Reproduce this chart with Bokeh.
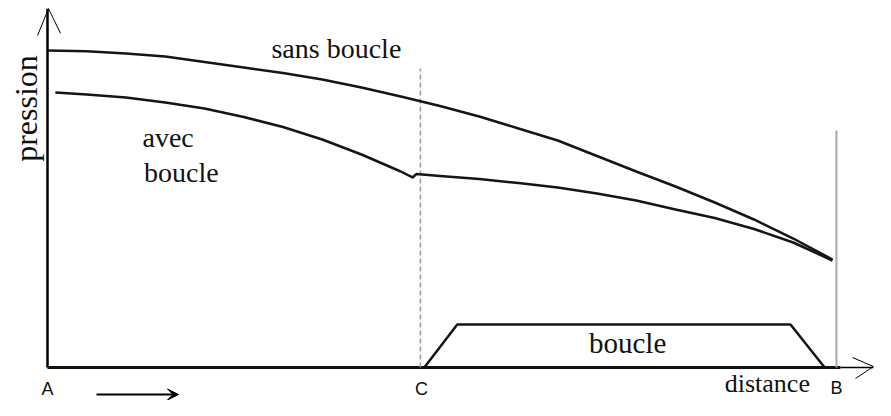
from bokeh.plotting import figure
from bokeh.models import Range1d, Arrow, VeeHead
from bokeh.embed import file_html
from bokeh.resources import INLINE
from bokeh.core.properties import value
import math

# distance: A = 0, C ~ 47.5, B = 100 ; pression in arbitrary units
dist = [0, 5, 10, 15, 20, 25, 30, 35, 40, 45, 50, 55, 60, 65, 70, 75, 80, 85, 90, 95, 100]
p_sans = [100.0, 99.78, 99.05, 98.11, 96.37, 94.64, 92.90, 90.85, 88.33, 85.49, 82.49,
          79.18, 75.39, 71.61, 66.72, 61.83, 57.10, 52.05, 46.69, 40.69, 34.07]

d_avec = [1, 5, 10, 15, 20, 25, 30, 35, 40, 45, 46.5, 47, 50, 55, 60, 65, 70, 75, 80, 85, 90, 95, 100]
p_avec = [86.75, 86.12, 85.17, 83.60, 81.70, 79.02, 75.87, 71.92, 67.19, 61.83, 59.94,
          61.04, 60.41, 59.46, 58.20, 56.78, 54.89, 52.68, 49.84, 47.16, 43.69, 39.43, 33.75]

d_C = 47.5
d_B = 100.5
p_C_top = 94.3
p_B_top = 74.8

d_boucle = [48.0, 52.2, 94.65, 99.0]
p_boucle = [0, 13.56, 13.56, 0]

X0, X1 = -5.987, 105.478
Y0, Y1 = -10.41, 115.77

p = figure(width=875, height=400, output_backend="svg", toolbar_location=None,
           x_range=Range1d(X0, X1), y_range=Range1d(Y0, Y1), min_border=0)
p.axis.visible = False
p.grid.visible = False
p.outline_line_color = None
p.background_fill_color = "white"
p.border_fill_color = "white"

serif = value("Liberation Serif")
sans = value("Liberation Sans")

# axes
p.line([0, 0], [0, 113.2], line_color="black", line_width=2.5)
p.line([0, 101.0], [0, 0], line_color="#111111", line_width=3)
p.line([101.0, 105.2], [0, 0], line_color="black", line_width=1.5)
p.line([-1.27, 0.13, 1.66], [104.7, 113.2, 105.4], line_color="black", line_width=1)
p.line([102.55, 105.22, 102.93], [3.15, 0.3, -3.47], line_color="black", line_width=1)

# vertical references
p.line([d_C, d_C], [0, p_C_top], line_color="#9a9a9a", line_width=1.5, line_dash="5 3")
p.line([d_B, d_B], [0, p_B_top], line_color="#aaaaaa", line_width=2)

# curves
p.line(dist, p_sans, line_color="#151515", line_width=2.5, line_join="round")
p.line(d_avec, p_avec, line_color="#151515", line_width=2.5, line_join="round")
p.line(d_boucle, p_boucle, line_color="#151515", line_width=2.5)

# direction arrow
p.add_layout(Arrow(end=VeeHead(size=11, fill_color="black", line_color="black"),
                   x_start=6.24, y_start=-8.52, x_end=16.69, y_end=-8.52,
                   line_color="black", line_width=2))

# texts
p.text(x=[36.8], y=[100.63], text=["sans boucle"], text_font=serif, text_font_size="28px",
       text_align="center", text_baseline="alphabetic", text_color="#111111")
p.text(x=[12.1], y=[72.55], text=["avec"], text_font=serif, text_font_size="28px",
       text_align="left", text_baseline="alphabetic", text_color="#111111")
p.text(x=[12.3], y=[61.51], text=["boucle"], text_font=serif, text_font_size="28px",
       text_align="left", text_baseline="alphabetic", text_color="#111111")
p.text(x=[73.9], y=[7.62], text=["boucle"], text_font=serif, text_font_size="29px",
       text_align="center", text_baseline="alphabetic", text_color="#111111")
p.text(x=[91.7], y=[-4.9], text=["distance"], text_font=serif, text_font_size="26px",
       text_align="center", text_baseline="alphabetic", text_color="#111111")
p.text(x=[-2.675], y=[81.7], text=["pression"], text_font=serif, text_font_size="32px",
       text_align="center", text_baseline="middle", angle=math.pi / 2, text_color="#111111")
p.text(x=[0, 47.64, 100.5], y=[-6.94, -6.94, -6.62], text=["A", "C", "B"], text_font=sans,
       text_font_size="18px", text_align="center", text_baseline="alphabetic", text_color="#111111")

open("out.html", "w").write(file_html(p, INLINE))
